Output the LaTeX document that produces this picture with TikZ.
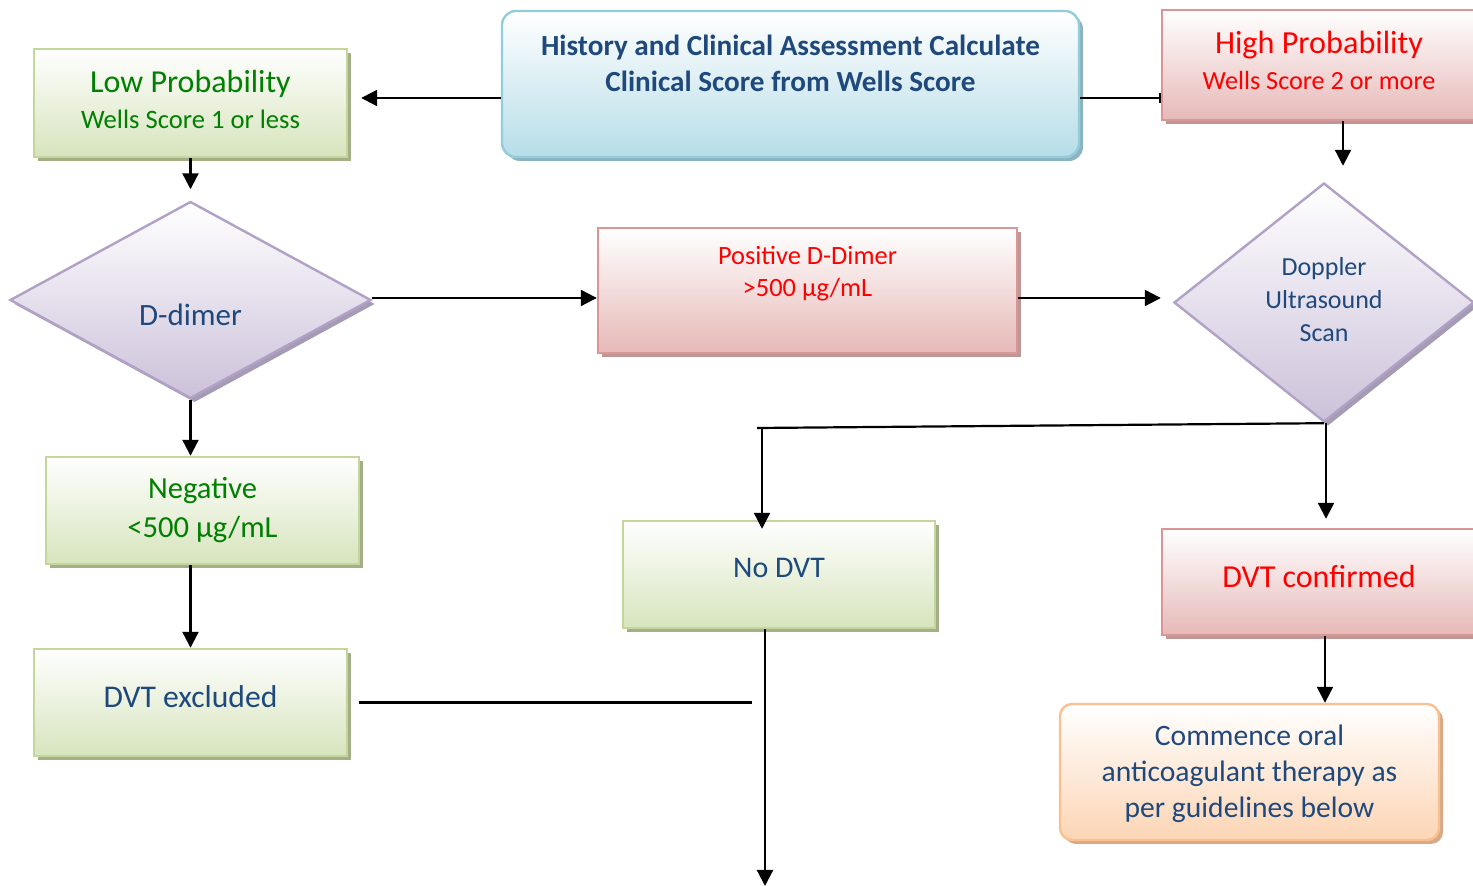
\documentclass[tikz,border=0pt]{standalone}
\usepackage{fontspec}
\setmainfont{Carlito}
\usetikzlibrary{arrows.meta}
\usetikzlibrary{shapes.geometric}
\usetikzlibrary{shadows}

\definecolor{greenline}{RGB}{195,214,155}
\definecolor{greenfill}{RGB}{215,228,189}
\definecolor{greenshade}{RGB}{165,175,135}
\definecolor{greentext}{RGB}{0,128,0}
\definecolor{redline}{RGB}{217,150,148}
\definecolor{redfill}{RGB}{230,185,184}
\definecolor{redshade}{RGB}{190,150,150}
\definecolor{blueline}{RGB}{146,205,220}
\definecolor{bluefill}{RGB}{183,221,232}
\definecolor{blueshade}{RGB}{140,180,192}
\definecolor{violetline}{RGB}{178,161,199}
\definecolor{violetfill}{RGB}{204,193,218}
\definecolor{violetshade}{RGB}{165,155,180}
\definecolor{orangeline}{RGB}{250,192,144}
\definecolor{orangefill}{RGB}{252,213,181}
\definecolor{orangeshade}{RGB}{215,170,135}
\definecolor{darkblue}{RGB}{31,73,125}

\newcommand{\fsz}[2]{\fontsize{#1}{#2}\selectfont}

\tikzset{
    plainbox/.style={draw, line width=1.2pt, inner sep=0pt},
    greenbox/.style={plainbox, draw=greenline, top color=white, bottom color=greenfill,
        drop shadow={shadow xshift=2pt, shadow yshift=-2pt, fill=greenshade, opacity=1}},
    redbox/.style={plainbox, draw=redline, top color=white, bottom color=redfill,
        drop shadow={shadow xshift=2pt, shadow yshift=-2pt, fill=redshade, opacity=1}},
    bluebox/.style={plainbox, draw=blueline, top color=white, bottom color=bluefill, rounded corners=7pt,
        drop shadow={shadow xshift=2pt, shadow yshift=-2pt, fill=blueshade, opacity=1}},
    orangebox/.style={plainbox, draw=orangeline, top color=white, bottom color=orangefill, rounded corners=6pt,
        drop shadow={shadow xshift=2pt, shadow yshift=-2pt, fill=orangeshade, opacity=1}},
    choice/.style={plainbox, diamond, draw=violetline, top color=white, bottom color=violetfill,
        drop shadow={shadow xshift=2pt, shadow yshift=-2pt, fill=violetshade, opacity=1}},
    txt/.style={align=center, inner sep=0pt},
    link/.style={line width=1.1pt},
    arr/.style={link, -{Triangle[width=8pt,length=8pt]}},
    bartip/.style={link, -{Bar[width=5pt]}}
}

\begin{document}
\begin{tikzpicture}[x=0.5pt, y=-0.5pt]
    \useasboundingbox (0,0) rectangle (1473,886);

    \node[bluebox, minimum width=288.5pt, minimum height=73pt,
        label={[txt, text=darkblue, font=\fsz{14.6}{18}\bfseries, yshift=10.5pt]center:{History and Clinical Assessment Calculate\\Clinical Score from Wells Score}}] (hist) at (790.5,84) {};
    \node[greenbox, minimum width=156.5pt, minimum height=54pt,
        label={[txt, text=greentext, font=\fsz{13.3}{18}, yshift=2pt]center:{{\fsz{16}{18}Low Probability}\\Wells Score 1 or less}}] (low) at (190.5,103) {};
    \node[redbox, minimum width=158pt, minimum height=55pt,
        label={[txt, text=red, font=\fsz{13.1}{18}, yshift=2.5pt, xshift=-0.5pt]center:{{\fsz{16.1}{18}High Probability}\\Wells Score 2 or more}}] (high) at (1320,65) {};
    \node[choice, minimum width=180.5pt, minimum height=98.5pt,
        label={[txt, text=darkblue, font=\fsz{15.5}{18}, yshift=-7.5pt]center:{D-dimer}}] (ddimer) at (190.5,300) {};
    \node[redbox, minimum width=209.5pt, minimum height=62.5pt,
        label={[txt, text=red, font=\fsz{13.2}{16}, yshift=8.5pt]center:{Positive D-Dimer\\>500 µg/mL}}] (pos) at (807.5,290.5) {};
    \node[choice, minimum width=150pt, minimum height=119.5pt,
        label={[txt, text=darkblue, font=\fsz{13}{16.5}, yshift=1.25pt]center:{Doppler\\Ultrasound\\Scan}}] (dop) at (1324,302.5) {};
    \node[greenbox, minimum width=156.5pt, minimum height=53.5pt,
        label={[txt, text=greentext, font=\fsz{15.3}{19.5}, yshift=0pt]center:{Negative\\<500 µg/mL}}] (neg) at (202.5,510.5) {};
    \node[greenbox, minimum width=156pt, minimum height=53.5pt,
        label={[txt, text=darkblue, font=\fsz{15}{18}, yshift=3.25pt]center:{No DVT}}] (nodvt) at (779,574.5) {};
    \node[redbox, minimum width=158pt, minimum height=53pt,
        label={[txt, text=red, font=\fsz{16}{18}, yshift=2.5pt, xshift=-0.5pt]center:{DVT confirmed}}] (conf) at (1320,582) {};
    \node[greenbox, minimum width=156.5pt, minimum height=53.5pt,
        label={[txt, text=darkblue, font=\fsz{15.8}{18}, yshift=2.75pt]center:{DVT excluded}}] (excl) at (190.5,702.5) {};
    \node[orangebox, minimum width=189.5pt, minimum height=68pt,
        label={[txt, text=darkblue, font=\fsz{14.8}{18}, yshift=-1pt]center:{Commence oral\\anticoagulant therapy as\\per guidelines below}}] (comm) at (1249.5,772) {};

    \coordinate (split) at (757,428);
    \coordinate (exit) at (765,886);

    \draw[arr, shorten >=6.5pt] ([yshift=-7pt]hist.west) -- ([yshift=-7pt]hist.west -| low.east);
    \draw[bartip] ([yshift=-7pt]hist.east) -- ([yshift=-7pt]hist.east -| high.west);
    \draw[arr, shorten >=5.5pt] (low.south) -- (ddimer.north);
    \draw[arr, shorten >=8pt] ([xshift=11.5pt]high.south) -- ([xshift=11.5pt]high.south |- dop.north);
    \draw[arr] ([yshift=1pt]ddimer.east) -- ([yshift=1pt]ddimer.east -| pos.west);
    \draw[arr, shorten >=6pt] ([yshift=-3.75pt]pos.east) -- ([yshift=-3.75pt]pos.east -| dop.west);
    \draw[arr] (ddimer.south) -- (ddimer.south |- neg.north);
    \draw[arr] (excl.north |- neg.south) -- (excl.north);
    \draw[link] (dop.south) -- (split);
    \draw[arr, shorten >=-4.5pt] ([xshift=-8.5pt]nodvt.north |- split) -- ([xshift=-8.5pt]nodvt.north);
    \draw[arr, shorten >=4.5pt] ([xshift=1pt]dop.south) -- ([xshift=1pt]dop.south |- conf.north);
    \draw[arr] ([xshift=2.5pt]conf.south) -- ([xshift=2.5pt]conf.south |- comm.north);
    \draw[link, shorten <=5.5pt, shorten >=2.5pt] (excl.east) -- (excl.east -| split);
    \draw[arr] ([xshift=-7pt]nodvt.south) -- (exit);
\end{tikzpicture}
\end{document}
